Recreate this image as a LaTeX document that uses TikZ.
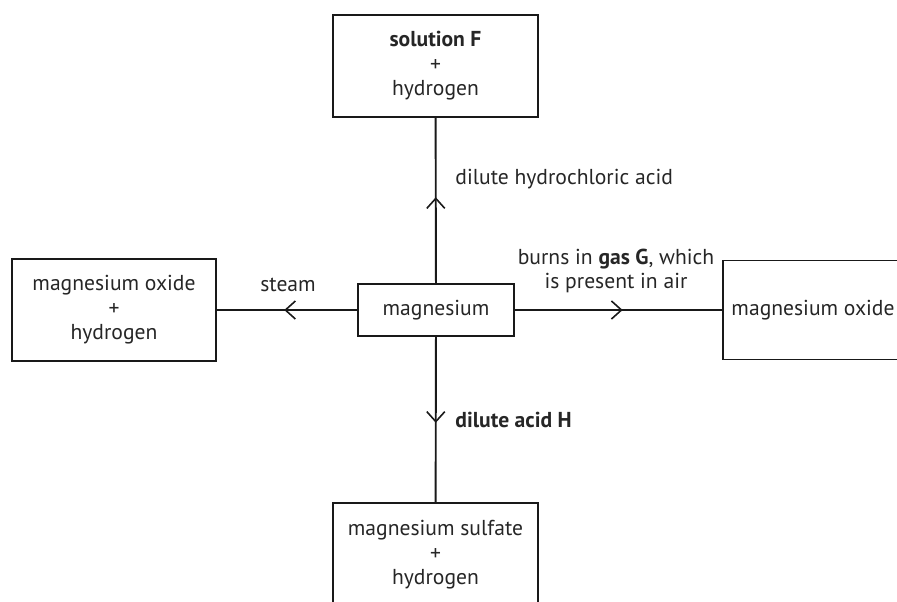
\documentclass[tikz,border=0pt]{standalone}
\usepackage{fontspec}
\setmainfont{PT Sans}
\usetikzlibrary{arrows.meta,decorations.markings}

\begin{document}
\begin{tikzpicture}[x=0.5pt, y=-0.5pt]
    \tikzstyle{box} = [rectangle, draw=black!90, line width=0.95pt, inner sep=0pt, align=center, text=black!85, font=\fontsize{10.8}{12.2}\selectfont]
    \tikzstyle{lbl} = [inner sep=0pt, align=center, text=black!85, font=\fontsize{10.8}{12.2}\selectfont]
    \tikzstyle{flow} = [draw=black!90, line width=0.95pt, postaction={decorate},
        decoration={markings, mark=at position 0.52 with {\arrow{Straight Barb[length=5pt, width=9pt, line width=0.8pt]}}}]

    \useasboundingbox (0,0) rectangle (897,601);

    % Boxes
    \node[box, minimum width=78pt, minimum height=26pt] (mg) at (436,310) {magnesium};
    \node[box, minimum width=102.5pt, minimum height=51pt] (top) at (435.5,66) {\textbf{solution F}\\+\\hydrogen};
    \node[box, minimum width=102pt, minimum height=51pt] (left) at (114,310) {magnesium oxide\\+\\hydrogen};
    \node[box, minimum width=90pt, minimum height=49.5pt] (right) at (813,310) {magnesium oxide};
    \node[box, minimum width=102.5pt, minimum height=52pt] (bottom) at (435.5,555) {magnesium sulfate\\+\\hydrogen};

    % Reactions
    \draw[flow] (mg) -- (top);
    \draw[flow] (mg) -- (left);
    \draw[flow] (mg) -- (right);
    \draw[flow] (mg) -- (bottom);

    % Labels
    \node[lbl, anchor=west] (hcl) at (455,179) {dilute hydrochloric acid};
    \node[lbl] (steam) at (288,285) {steam};
    \node[lbl] (gas) at (616,271) {burns in \textbf{gas G}, which\\is present in air};
    \node[lbl, anchor=west] (acid) at (455,420) {\textbf{dilute acid H}};
\end{tikzpicture}
\end{document}
